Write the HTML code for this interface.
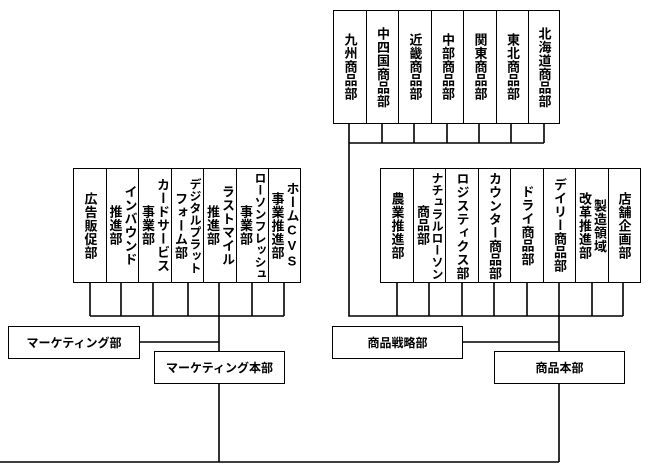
<!DOCTYPE html>
<html><head><meta charset="utf-8"><style>
body{margin:0;width:650px;height:475px;background:#fff;position:relative;overflow:hidden;font-family:"Liberation Sans","Noto Sans CJK JP",sans-serif;font-weight:bold;color:#000}
.b{position:absolute;border:1.5px solid #000;box-sizing:border-box;background:#fff}
.v{display:flex;flex-direction:row-reverse;flex-wrap:nowrap;justify-content:center;align-items:center;gap:2px;overflow:hidden}
.v span{writing-mode:vertical-rl;text-orientation:upright;font-size:13px;line-height:13px;letter-spacing:0.5px;white-space:nowrap;flex:none}
.v span.s{font-size:12px;line-height:12px;letter-spacing:0}
.h{display:flex;align-items:center;justify-content:center;font-size:12px}
svg{position:absolute;left:0;top:0}
</style></head><body>
<svg width="650" height="475" fill="none" stroke="#000" stroke-width="1.6">
<path d="M90 282V316M121 282V316M153 282V316M188 282V316M219 282V316M252 282V316M284 282V316M90 316H284"/>
<path d="M219 316V462M139 342H219M0 462H559"/>
<path d="M349 123V143M382 123V143M414 123V143M447 123V143M479 123V143M511 123V143M544 123V143M349 143H544"/>
<path d="M349 143V316H623"/>
<path d="M397 282V316M429 282V316M462 282V316M494 282V316M527 282V316M559 282V316M592 282V316M623 282V316"/>
<path d="M559 316V462M462 342H559"/>
</svg>

<div class="b v" style="left:73px;top:168px;width:34px;height:115px"><span>広告販促部</span></div>
<div class="b v" style="left:105.5px;top:168px;width:34px;height:115px"><span>インバウンド</span><span>推進部</span></div>
<div class="b v" style="left:138px;top:168px;width:34px;height:115px"><span>カードサービス</span><span>事業部</span></div>
<div class="b v" style="left:170.5px;top:168px;width:34px;height:115px"><span class="s">デジタルプラット</span><span>フォーム部</span></div>
<div class="b v" style="left:203px;top:168px;width:34px;height:115px"><span>ラストマイル</span><span>推進部</span></div>
<div class="b v" style="left:235.5px;top:168px;width:34px;height:115px"><span class="s">ローソンフレッシュ</span><span>事業部</span></div>
<div class="b v" style="left:268px;top:168px;width:33px;height:115px"><span>ホームCVS</span><span>事業推進部</span></div>

<div class="b v" style="left:333px;top:10px;width:34px;height:114px"><span>九州商品部</span></div>
<div class="b v" style="left:365.5px;top:10px;width:34px;height:114px"><span>中四国商品部</span></div>
<div class="b v" style="left:398px;top:10px;width:34px;height:114px"><span>近畿商品部</span></div>
<div class="b v" style="left:430.5px;top:10px;width:34px;height:114px"><span>中部商品部</span></div>
<div class="b v" style="left:463px;top:10px;width:34px;height:114px"><span>関東商品部</span></div>
<div class="b v" style="left:495.5px;top:10px;width:34px;height:114px"><span>東北商品部</span></div>
<div class="b v" style="left:528px;top:10px;width:32px;height:114px"><span>北海道商品部</span></div>

<div class="b v" style="left:380px;top:168px;width:34px;height:115px"><span>農業推進部</span></div>
<div class="b v" style="left:412.5px;top:168px;width:34px;height:115px"><span class="s">ナチュラルローソン</span><span>商品部</span></div>
<div class="b v" style="left:445px;top:168px;width:34px;height:115px"><span>ロジスティクス部</span></div>
<div class="b v" style="left:477.5px;top:168px;width:34px;height:115px"><span>カウンター商品部</span></div>
<div class="b v" style="left:510px;top:168px;width:34px;height:115px"><span>ドライ商品部</span></div>
<div class="b v" style="left:542.5px;top:168px;width:34px;height:115px"><span>デイリー商品部</span></div>
<div class="b v" style="left:575px;top:168px;width:34px;height:115px"><span>製造領域</span><span>改革推進部</span></div>
<div class="b v" style="left:607.5px;top:168px;width:33px;height:115px"><span>店舗企画部</span></div>

<div class="b h" style="left:8px;top:326px;width:132px;height:33px">マーケティング部</div>
<div class="b h" style="left:154px;top:351px;width:131px;height:33px">マーケティング本部</div>
<div class="b h" style="left:332px;top:326px;width:131px;height:33px">商品戦略部</div>
<div class="b h" style="left:494px;top:351px;width:131px;height:33px">商品本部</div>
</body></html>
